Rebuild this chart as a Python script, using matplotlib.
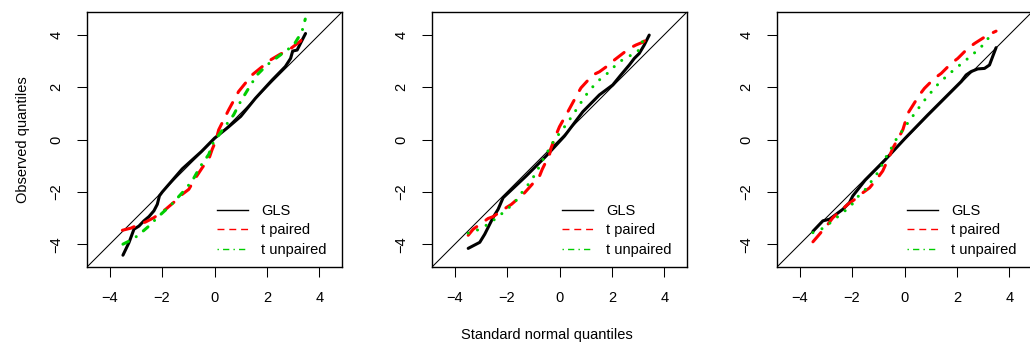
import matplotlib
matplotlib.use("Agg")
from matplotlib import pyplot as plt
from matplotlib.lines import Line2D

plt.rcParams['font.family'] = ['Liberation Sans', 'DejaVu Sans']

series_names = ["GLS", "t paired", "t unpaired"]
tick_values = [-4, -2, 0, 2, 4]

# panel 1
gls1_x = [-3.49, -3.26, -3.07, -2.88, -2.69, -2.50, -2.31, -2.18, -2.10, -1.99, -1.23, -0.50, 0.0, 0.50, 1.0, 1.56, 2.2, 2.7, 2.9, 2.98, 3.15, 3.28, 3.47]
gls1_y = [-4.41, -3.93, -3.42, -3.30, -3.10, -2.94, -2.72, -2.47, -2.15, -2.0, -1.12, -0.46, 0.05, 0.45, 0.88, 1.57, 2.27, 2.78, 3.09, 3.37, 3.41, 3.67, 4.04]
paired1_x = [-3.51, -3.19, -2.9, -2.62, -2.31, -1.86, -1.5, -1.23, -0.98, -0.72, -0.45, -0.22, -0.09, 0.05, 0.16, 0.54, 0.92, 1.43, 2.13, 2.5, 2.83, 3.08, 3.28, 3.46]
paired1_y = [-3.46, -3.38, -3.25, -3.14, -2.98, -2.66, -2.35, -2.09, -1.90, -1.46, -1.05, -0.76, -0.38, -0.05, 0.37, 1.13, 1.83, 2.46, 3.03, 3.25, 3.41, 3.60, 3.75, 4.04]
unpaired1_x = [-3.49, -3.11, -2.86, -2.50, -2.12, -1.67, -1.23, -0.85, -0.53, -0.22, -0.05, 0.35, 0.73, 0.99, 1.30, 1.62, 2.0, 2.51, 3.02, 3.33, 3.46]
unpaired1_y = [-3.99, -3.80, -3.61, -3.30, -2.92, -2.51, -2.03, -1.58, -1.01, -0.57, -0.13, 0.43, 0.94, 1.44, 1.95, 2.46, 2.84, 3.22, 3.60, 4.1, 4.59]

# panel 2
gls2_x = [-3.48, -3.04, -2.85, -2.66, -2.53, -2.34, -2.15, -1.27, -0.51, 0.19, 0.89, 1.52, 2.03, 2.34, 2.66, 2.85, 3.04, 3.23, 3.42]
gls2_y = [-4.15, -3.92, -3.61, -3.23, -2.97, -2.66, -2.22, -1.39, -0.63, 0.13, 1.06, 1.70, 2.08, 2.46, 2.84, 3.09, 3.28, 3.60, 3.98]
paired2_x = [-3.48, -3.29, -2.72, -2.53, -2.02, -1.83, -1.33, -1.16, -0.76, -0.66, -0.38, -0.32, -0.13, 0.0, 0.32, 0.70, 0.82, 1.27, 1.52, 1.96, 2.09, 2.66, 2.91, 3.2, 3.42]
paired2_y = [-3.65, -3.42, -3.01, -2.94, -2.59, -2.47, -2.03, -1.84, -1.39, -1.14, -0.57, -0.32, 0.18, 0.49, 1.06, 1.76, 1.97, 2.46, 2.58, 2.90, 3.03, 3.47, 3.60, 3.72, 3.95]
unpaired2_x = [-3.48, -3.04, -2.66, -2.30, -1.96, -1.65, -1.39, -1.14, -0.89, -0.70, -0.48, -0.25, 0.0, 0.25, 0.51, 0.76, 0.99, 1.27, 1.58, 1.90, 2.22, 2.59, 2.97, 3.17]
unpaired2_y = [-3.57, -3.42, -3.19, -2.91, -2.63, -2.32, -1.96, -1.65, -1.27, -0.89, -0.51, -0.11, 0.24, 0.56, 0.94, 1.32, 1.67, 2.01, 2.33, 2.58, 2.92, 3.15, 3.32, 3.75]

# panel 3
gls3_x = [-3.49, -3.11, -2.86, -2.35, -2.10, -1.97, -1.5, -0.76, 0.0, 0.89, 1.52, 2.16, 2.35, 2.54, 2.79, 3.05, 3.24, 3.36, 3.49]
gls3_y = [-3.50, -3.10, -3.04, -2.66, -2.41, -2.15, -1.55, -0.80, 0.02, 0.94, 1.57, 2.21, 2.46, 2.59, 2.69, 2.71, 2.84, 3.16, 3.50]
paired3_x = [-3.49, -3.30, -2.92, -2.73, -2.48, -2.16, -1.85, -1.59, -1.33, -1.02, -0.83, -0.57, -0.44, -0.19, -0.06, 0.13, 0.25, 0.57, 0.76, 1.14, 1.40, 1.78, 2.03, 2.41, 2.67, 3.17, 3.49]
paired3_y = [-3.90, -3.68, -3.23, -2.98, -2.76, -2.47, -2.25, -2.03, -1.84, -1.46, -1.20, -0.63, -0.32, 0.13, 0.38, 1.0, 1.19, 1.70, 1.95, 2.33, 2.52, 2.90, 3.09, 3.47, 3.66, 3.98, 4.13]
unpaired3_x = [-3.49, -3.05, -2.67, -2.35, -2.03, -1.75, -1.46, -1.21, -0.95, -0.76, -0.53, -0.32, -0.06, 0.19, 0.44, 0.70, 0.98, 1.27, 1.59, 1.90, 2.26, 2.60, 2.95, 3.26]
unpaired3_y = [-3.55, -3.36, -3.04, -2.79, -2.51, -2.15, -1.87, -1.52, -1.17, -0.76, -0.38, 0.0, 0.37, 0.72, 1.06, 1.42, 1.76, 2.10, 2.40, 2.67, 2.96, 3.24, 3.56, 3.94]

panels = [
    (gls1_x, gls1_y, paired1_x, paired1_y, unpaired1_x, unpaired1_y),
    (gls2_x, gls2_y, paired2_x, paired2_y, unpaired2_x, unpaired2_y),
    (gls3_x, gls3_y, paired3_x, paired3_y, unpaired3_x, unpaired3_y),
]

RED = '#FF0000'
GREEN = '#00CD00'
LW = 2.2
lim = 4.86
FS = 10.5

fig = plt.figure(figsize=(10.3, 3.47), dpi=100)
lefts = [87, 432, 777]
axes = [fig.add_axes([l / 1030, 80 / 347, 255 / 1030, 255 / 347]) for l in lefts]

for i, (ax, p) in enumerate(zip(axes, panels)):
    gx, gy, px, py, ux, uy = p
    ax.axline((0, 0), slope=1, color='black', lw=0.75)
    ax.plot(gx, gy, color='black', lw=LW, solid_capstyle='round', solid_joinstyle='round')
    ax.plot(px, py, color=RED, lw=LW, dashes=[4, 3.7], dash_capstyle='round', dash_joinstyle='round')
    # green looks dash-dot in the first panel, just dots in the others
    gdash = [2.0, 3.0, 0.01, 3.0] if i == 0 else [0.01, 3.2]
    ax.plot(ux, uy, color=GREEN, lw=LW, dashes=gdash, dash_capstyle='round', dash_joinstyle='round')

    ax.set_xlim(-lim, lim)
    ax.set_ylim(-lim, lim)
    ax.set_xticks(tick_values)
    ax.set_yticks(tick_values)
    ax.tick_params(direction='out', length=7, width=0.75, labelsize=FS, pad=10)
    ax.tick_params(axis='y', pad=10)
    for lab in ax.get_yticklabels():
        lab.set_rotation(90)
        lab.set_va('center')
    for s in ax.spines.values():
        s.set_linewidth(1.0)

    handles = [
        Line2D([], [], color='black', lw=1.0),
        Line2D([], [], color=RED, lw=1.0, dashes=[5, 3.5]),
        Line2D([], [], color=GREEN, lw=1.0, dashes=[1, 3, 4.5, 3]),
    ]
    ax.legend(handles, series_names, loc='lower left', bbox_to_anchor=(0.51, 0.04),
              frameon=False, fontsize=FS, handlelength=2.1, handletextpad=0.9,
              labelspacing=0.38, borderpad=0, borderaxespad=0)

axes[0].set_ylabel("Observed quantiles", fontsize=FS, labelpad=14)
fig.text(547 / 1030, 12 / 347, "Standard normal quantiles", ha='center', va='center', fontsize=FS)

fig.savefig("out.png", dpi=100)
